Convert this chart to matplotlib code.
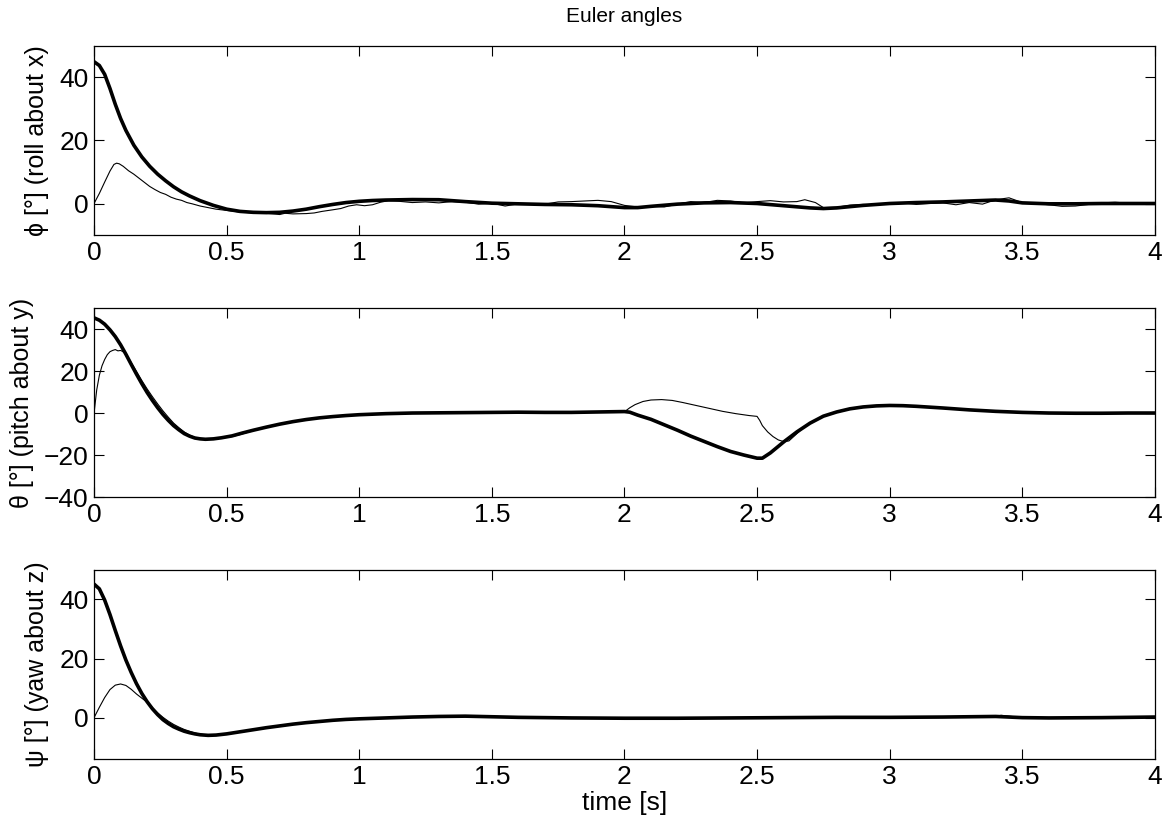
import matplotlib
matplotlib.use("Agg")
import matplotlib.pyplot as plt
import numpy as np

plt.rcParams['font.family'] = ['Liberation Sans', 'DejaVu Sans']
plt.rcParams['font.size'] = 19

# ---- roll (phi) ----
t_roll_ref = [0, 0.02, 0.04, 0.06, 0.08, 0.10, 0.12, 0.15, 0.18, 0.21, 0.24, 0.27, 0.30, 0.33,
              0.36, 0.40, 0.45, 0.50, 0.55, 0.60, 0.65, 0.70, 0.75, 0.80, 0.85, 0.90, 0.95, 1.0,
              1.05, 1.1, 1.2, 1.3, 1.4, 1.5, 1.6, 1.7, 1.8, 1.9, 2.0, 2.05, 2.1, 2.2, 2.3, 2.4,
              2.5, 2.6, 2.7, 2.75, 2.8, 2.9, 3.0, 3.1, 3.2, 3.3, 3.4, 3.45, 3.5, 3.6, 3.7, 3.8,
              3.9, 4.0]
roll_ref = [45.0, 43.8, 41.0, 36.5, 31.5, 27.0, 23.2, 18.5, 14.8, 11.8, 9.3, 7.2, 5.3, 3.7,
            2.4, 0.9, -0.6, -1.8, -2.5, -2.8, -2.9, -2.8, -2.4, -1.8, -1.0, -0.3, 0.3, 0.7,
            0.95, 1.1, 1.25, 1.2, 0.6, 0.1, -0.1, -0.3, -0.4, -0.7, -1.3, -1.3, -0.9, -0.2, 0.2, 0.3,
            0.0, -0.7, -1.4, -1.6, -1.4, -0.6, 0.0, 0.3, 0.5, 0.8, 1.1, 0.8, 0.2, -0.1, -0.1, 0.0,
            0.0, 0.0]
t_roll_meas = [0, 0.02, 0.04, 0.06, 0.075, 0.085, 0.095, 0.11, 0.13, 0.15, 0.17, 0.19, 0.21,
               0.23, 0.25, 0.27, 0.29, 0.31, 0.33, 0.35, 0.37, 0.40, 0.43, 0.46, 0.50, 0.55,
               0.60, 0.65, 0.70, 0.72, 0.75, 0.80, 0.83, 0.86, 0.90, 0.93, 0.96, 0.99, 1.02,
               1.05, 1.08, 1.11, 1.15, 1.2, 1.25, 1.3, 1.35, 1.4, 1.45, 1.5, 1.55, 1.6, 1.7,
               1.75, 1.8, 1.85, 1.9, 1.95, 2.0, 2.05, 2.1, 2.15, 2.2, 2.25, 2.3, 2.35, 2.4,
               2.45, 2.5, 2.55, 2.6, 2.65, 2.68, 2.72, 2.75, 2.8, 2.85, 2.9, 2.95, 3.0, 3.05,
               3.1, 3.15, 3.2, 3.25, 3.3, 3.35, 3.4, 3.45, 3.48, 3.5, 3.55, 3.6, 3.65, 3.7,
               3.75, 3.8, 3.85, 3.9, 3.95, 4.0]
roll_meas = [0, 3.2, 6.8, 10.3, 12.4, 12.8, 12.6, 11.8, 10.4, 9.3, 8.0, 6.7, 5.4,
             4.4, 3.5, 2.9, 2.0, 1.4, 1.0, 0.3, -0.1, -0.8, -1.3, -1.8, -2.2, -2.7,
             -3.0, -3.1, -3.5, -3.1, -3.3, -3.2, -3.0, -2.5, -2.0, -1.6, -0.8, -0.4, -0.7,
             -0.4, 0.4, 0.9, 0.7, 0.3, 0.5, 0.2, 0.6, 0.4, -0.2, 0.1, -0.8, -0.1, -0.2,
             0.5, 0.6, 0.8, 1.0, 0.6, -0.6, -1.1, -0.9, -1.1, -0.2, 0.6, 0.3, 1.0, 0.8,
             0.2, 0.6, 0.9, 0.5, 0.6, 1.2, 0.3, -1.3, -1.2, -0.5, -0.3, -0.4, 0.1, 0.2,
             -0.3, 0.0, 0.2, -0.4, 0.3, -0.2, 1.2, 1.8, 0.9, 0.3, 0.0, -0.4, -0.9, -0.8,
             -0.3, 0.2, 0.4, 0.1, 0.1, 0.0]

# ---- pitch (theta) ----
t_pitch_ref = [0, 0.02, 0.04, 0.06, 0.08, 0.10, 0.12, 0.14, 0.16, 0.18, 0.20, 0.22, 0.24, 0.26,
               0.28, 0.30, 0.32, 0.34, 0.36, 0.38, 0.40, 0.42, 0.45, 0.48, 0.52, 0.56, 0.60,
               0.65, 0.70, 0.75, 0.80, 0.85, 0.90, 0.95, 1.0, 1.1, 1.2, 1.3, 1.4, 1.5, 1.6,
               1.7, 1.8, 1.9, 2.0, 2.02, 2.05, 2.1, 2.15, 2.2, 2.25, 2.3, 2.35, 2.4, 2.45,
               2.5, 2.52, 2.55, 2.6, 2.65, 2.7, 2.75, 2.8, 2.85, 2.9, 2.95, 3.0, 3.05, 3.1,
               3.2, 3.3, 3.4, 3.5, 3.6, 3.7, 3.8, 3.9, 4.0]
pitch_ref = [45.3, 44.2, 42.3, 39.6, 36.4, 32.5, 28.0, 23.2, 18.5, 14.0, 9.8, 6.0, 2.5, -0.7,
             -3.5, -6.0, -8.0, -9.8, -11.0, -11.9, -12.3, -12.5, -12.3, -11.8, -10.9, -9.5, -8.2,
             -6.7, -5.3, -4.1, -3.1, -2.3, -1.7, -1.2, -0.8, -0.3, 0.0, 0.1, 0.2, 0.3, 0.4,
             0.3, 0.3, 0.5, 0.7, 0.4, -1.0, -3.0, -5.6, -8.2, -11.0, -13.5, -16.0, -18.3, -20.0,
             -21.5, -21.5, -19.0, -13.8, -9.0, -4.8, -1.5, 0.5, 2.0, 2.9, 3.4, 3.6, 3.5, 3.2,
             2.4, 1.5, 0.8, 0.3, 0.0, -0.1, -0.1, 0.0, 0.0]
t_pitch_meas = [0, 0.01, 0.02, 0.03, 0.04, 0.05, 0.06, 0.07, 0.08, 0.09, 0.10, 0.12, 0.14,
                0.16, 0.18, 0.20, 0.22, 0.24, 0.26, 0.28, 0.30, 0.32, 0.34, 0.36, 0.38, 0.40,
                0.42, 0.45, 0.48, 0.52, 0.55, 0.60, 0.65, 0.70, 0.75, 0.80, 0.85, 0.90, 0.95,
                1.0, 1.1, 1.2, 1.3, 1.4, 1.5, 1.6, 1.7, 1.8, 1.9, 2.0, 2.02, 2.04, 2.07, 2.1,
                2.14, 2.18, 2.22, 2.27, 2.32, 2.37, 2.42, 2.47, 2.50, 2.51, 2.52, 2.54, 2.56,
                2.58, 2.60, 2.62, 2.64, 2.67, 2.7, 2.75, 2.8, 2.85, 2.9, 2.95, 3.0, 3.05, 3.1,
                3.2, 3.3, 3.4, 3.5, 3.6, 3.7, 3.8, 3.9, 4.0]
pitch_meas = [0, 11.0, 18.0, 22.5, 25.5, 27.8, 29.2, 29.8, 30.2, 29.6, 29.8, 28.5, 24.0,
              19.8, 15.5, 11.5, 7.8, 4.3, 1.0, -2.0, -4.8, -7.0, -9.0, -10.5, -11.6, -12.1,
              -12.4, -12.3, -12.0, -11.2, -10.3, -8.4, -6.6, -5.2, -4.0, -3.0, -2.2, -1.6, -1.1,
              -0.7, -0.2, 0.1, 0.0, 0.3, 0.2, 0.5, 0.2, 0.4, 0.4, 0.6, 2.5, 4.0, 5.5, 6.2,
              6.4, 6.0, 5.0, 3.6, 2.2, 0.8, -0.3, -1.2, -1.6, -3.5, -6.0, -9.0, -11.2,
              -12.8, -13.6, -13.3, -11.0, -7.5, -4.9, -1.4, 0.6, 2.1, 3.0, 3.4, 3.6, 3.4, 3.1,
              2.5, 1.4, 0.8, 0.2, -0.1, 0.0, -0.2, 0.1, 0.0]

# ---- yaw (psi) ----
t_yaw_ref = [0, 0.02, 0.04, 0.06, 0.08, 0.10, 0.12, 0.14, 0.16, 0.18, 0.20, 0.22, 0.24, 0.26,
             0.28, 0.30, 0.32, 0.34, 0.36, 0.38, 0.40, 0.43, 0.46, 0.50, 0.55, 0.60, 0.65,
             0.70, 0.75, 0.80, 0.85, 0.90, 0.95, 1.0, 1.1, 1.2, 1.3, 1.4, 1.5, 1.6, 1.8,
             2.0, 2.2, 2.4, 2.6, 2.8, 3.0, 3.2, 3.4, 3.5, 3.6, 3.8, 4.0]
yaw_ref = [45.2, 43.6, 39.8, 34.9, 29.5, 24.3, 19.5, 15.3, 11.5, 8.2, 5.4, 3.0, 1.0, -0.7,
           -2.0, -3.1, -3.9, -4.6, -5.1, -5.5, -5.8, -6.0, -5.9, -5.5, -4.8, -4.1, -3.4,
           -2.8, -2.2, -1.7, -1.3, -0.9, -0.6, -0.4, -0.1, 0.2, 0.4, 0.5, 0.3, 0.1, -0.1,
           -0.2, -0.2, -0.1, 0.0, 0.1, 0.1, 0.2, 0.4, 0.0, -0.1, 0.0, 0.2]
t_yaw_meas = [0, 0.02, 0.04, 0.06, 0.08, 0.10, 0.12, 0.14, 0.16, 0.18, 0.20, 0.22, 0.24,
              0.26, 0.28, 0.30, 0.32, 0.34, 0.36, 0.38, 0.40, 0.43, 0.46, 0.50, 0.55, 0.60,
              0.65, 0.70, 0.75, 0.80, 0.85, 0.90, 0.95, 1.0, 1.1, 1.2, 1.3, 1.4, 1.5, 1.6,
              1.8, 2.0, 2.2, 2.4, 2.6, 2.8, 3.0, 3.2, 3.4, 3.42, 3.5, 3.6, 3.8, 4.0]
yaw_meas = [0, 3.5, 6.8, 9.5, 11.0, 11.4, 10.9, 9.6, 8.0, 6.6, 5.2, 3.4, 1.6,
            0.1, -1.2, -2.3, -3.2, -4.0, -4.6, -5.2, -5.6, -5.9, -5.8, -5.4, -4.8, -4.0,
            -3.3, -2.7, -2.2, -1.6, -1.2, -0.9, -0.6, -0.3, -0.1, 0.2, 0.3, 0.5, 0.3, 0.1,
            -0.1, -0.2, -0.1, -0.1, 0.0, 0.1, 0.2, 0.2, 0.3, 0.8, 0.0, -0.1, 0.0, 0.2]

ylabels = ['\u03d5 [°] (roll about x)', '\u03b8 [°] (pitch about y)', '\u03c8 [°] (yaw about z)']
ylims = [(-10, 50), (-40, 50), (-14, 50)]
yticks = [[0, 20, 40], [-40, -20, 0, 20, 40], [0, 20, 40]]
xticks = [0, 0.5, 1, 1.5, 2, 2.5, 3, 3.5, 4]
xticklabels = ['0', '0.5', '1', '1.5', '2', '2.5', '3', '3.5', '4']

series = [
    (t_roll_ref, roll_ref, t_roll_meas, roll_meas),
    (t_pitch_ref, pitch_ref, t_pitch_meas, pitch_meas),
    (t_yaw_ref, yaw_ref, t_yaw_meas, yaw_meas),
]

fig = plt.figure(figsize=(11.67, 8.24), dpi=100)
bottoms = [0.7148, 0.3968, 0.0789]
axs = [fig.add_axes([0.0806, b, 0.909, 0.2294]) for b in bottoms]

for ax, (tr, yr, tm, ym), lab, yl, yt in zip(axs, series, ylabels, ylims, yticks):
    ax.plot(tm, ym, color='black', linewidth=0.8)
    ax.plot(tr, yr, color='black', linewidth=2.6)
    ax.set_xlim(0, 4)
    ax.set_ylim(*yl)
    ax.set_xticks(xticks)
    ax.set_xticklabels(xticklabels)
    ax.set_yticks(yt)
    ax.tick_params(direction='in', length=7, width=0.8, top=True, right=True, pad=4)
    for s in ax.spines.values():
        s.set_linewidth(0.9)
    ax.set_ylabel(lab, fontsize=18, labelpad=7)

axs[0].set_title('Euler angles', fontsize=15, pad=17)
axs[2].set_xlabel('time [s]', labelpad=2)

fig.savefig('out.png', dpi=100)
